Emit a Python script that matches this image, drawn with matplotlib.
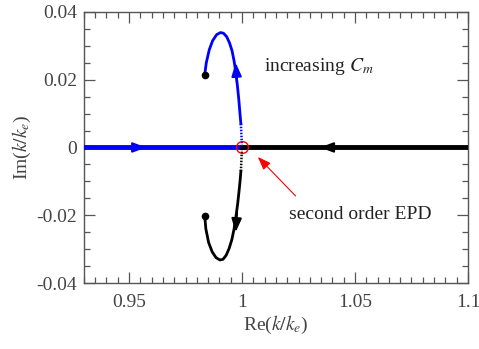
import numpy as np
import matplotlib
matplotlib.use('Agg')
import matplotlib.pyplot as plt
from matplotlib.ticker import MultipleLocator

plt.rcParams['font.family'] = ['Liberation Serif', 'DejaVu Serif']
plt.rcParams['mathtext.fontset'] = 'stix'

# real axis branches (Im = 0)
re_blue = [0.93, 1.0]
re_black = [1.0, 1.1]

# upper branch (from the dot to the EPD)
up_x = [0.9835, 0.9842, 0.9855, 0.9870, 0.9888, 0.9905, 0.9918, 0.9932, 0.9945, 0.9956,
        0.9965, 0.9973, 0.9980, 0.9986, 0.9991, 0.9995]
up_y = [0.0215, 0.0250, 0.0288, 0.0315, 0.0333, 0.0339, 0.0337, 0.0327, 0.0308, 0.0285,
        0.0255, 0.0220, 0.0180, 0.0140, 0.0100, 0.0070]
# lower branch
lo_x = [0.9835, 0.9840, 0.9852, 0.9868, 0.9885, 0.9902, 0.9916, 0.9930, 0.9943, 0.9955,
        0.9965, 0.9973, 0.9981, 0.9987, 0.9992, 0.9995]
lo_y = [-0.0202, -0.0240, -0.0280, -0.0308, -0.0325, -0.0332, -0.0330, -0.0318, -0.0298, -0.0272,
        -0.0240, -0.0205, -0.0165, -0.0128, -0.0095, -0.0070]

dots_x = [0.9835, 0.9835]
dots_y = [0.0215, -0.0202]
epd = (1.0, 0.0)

fs = 14

fig = plt.figure(figsize=(4.79, 3.49), dpi=100)
ax = fig.add_axes([0.175, 0.189, 0.802, 0.777])

ax.plot(re_blue, [0, 0], color='blue', lw=3.5, zorder=3)
ax.plot(re_black, [0, 0], color='black', lw=3.5, zorder=3)
ax.plot(up_x, up_y, color='blue', lw=2, zorder=3)
ax.plot(lo_x, lo_y, color='black', lw=2, zorder=3)
# faint dotted piece near the EPD
ax.plot([up_x[-1], epd[0]], [up_y[-1], epd[1]], color='blue', lw=1.8, ls=(0, (0.6, 0.6)), zorder=3)
ax.plot([lo_x[-1], epd[0]], [lo_y[-1], epd[1]], color='black', lw=1.8, ls=(0, (0.6, 0.6)), zorder=3)

# direction arrows
arrows = [
    ((0.9576, 0.0), (0.9520, 0.0), 'blue'),
    ((1.0345, 0.0), (1.0400, 0.0), 'black'),
    ((0.9972, 0.0250), (0.9978, 0.0190), 'blue'),
    ((0.9972, -0.0250), (0.9978, -0.0190), 'black'),
]
for tip, tail, c in arrows:
    ax.annotate('', xy=tip, xytext=tail,
                arrowprops=dict(arrowstyle='-|>,head_length=0.8,head_width=0.3', color=c, lw=1.5,
                                shrinkA=0, shrinkB=0), zorder=4)

ax.plot(dots_x, dots_y, 'o', color='black', ms=4.5, zorder=5)
ax.plot([epd[0]], [epd[1]], 'o', mfc='none', mec='red', ms=8.5, mew=1.0, zorder=6)

ax.annotate('', xy=(1.0070, -0.0028), xytext=(1.0237, -0.0143),
            arrowprops=dict(arrowstyle='-|>,head_length=0.8,head_width=0.3', color='red', lw=0.8,
                            shrinkA=0, shrinkB=0))
ax.text(1.0209, -0.0199, 'second order EPD', fontsize=fs, va='center', ha='left', color='#222222')
ax.text(1.0096, 0.0238, 'increasing $C_m$', fontsize=fs, va='center', ha='left', color='#222222')

ax.set_xlim(0.93, 1.1)
ax.set_ylim(-0.04, 0.04)
ax.set_xticks([0.95, 1.0, 1.05, 1.1])
ax.set_xticklabels(['0.95', '1', '1.05', '1.1'])
ax.set_yticks([-0.04, -0.02, 0, 0.02, 0.04])
ax.set_yticklabels(['-0.04', '-0.02', '0', '0.02', '0.04'])
ax.xaxis.set_minor_locator(MultipleLocator(0.005))
ax.yaxis.set_minor_locator(MultipleLocator(0.005))
ax.tick_params(which='both', direction='in', top=True, right=True, color='#555555',
               labelcolor='#444444', labelsize=fs)
ax.tick_params(which='major', length=8, width=0.9, pad=5)
ax.tick_params(axis='x', which='major', pad=8)
ax.tick_params(which='minor', length=4.5, width=0.9)
for s in ax.spines.values():
    s.set_color('#555555')
    s.set_linewidth(1.0)

ax.set_xlabel('Re($k/k_e$)', fontsize=fs, color='#444444', labelpad=2)
ax.set_ylabel('Im($k/k_e$)', fontsize=fs, color='#444444', labelpad=2)

fig.savefig('out.png', dpi=100)
